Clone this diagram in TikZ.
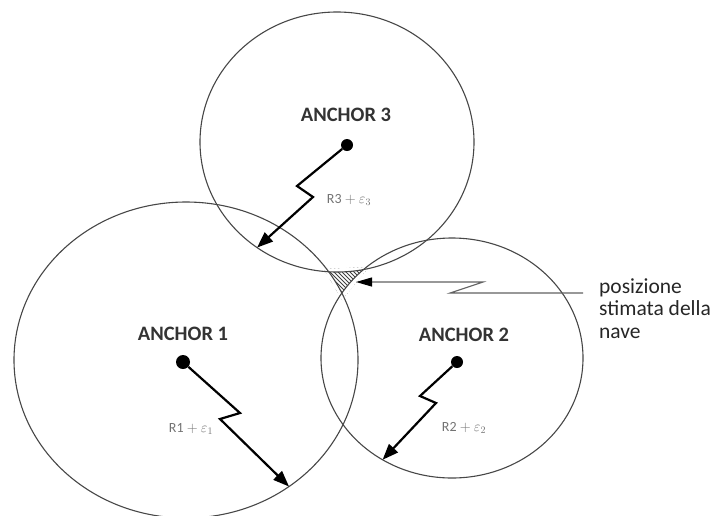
\documentclass[tikz,border=0pt]{standalone}
\usepackage{fontspec}
\setmainfont{Carlito}
\usetikzlibrary{arrows.meta,calc}
\begin{document}
\begin{tikzpicture}[x=1pt,y=-1pt,
  ring/.style={draw=black!72, line width=1.1pt},
  anchordot/.style={circle, fill=black, draw=none, inner sep=0pt, minimum size=#1},
  anchorlabel/.style={font=\bfseries\fontsize{20.5}{24}\selectfont, text=black!80, inner sep=0pt},
  rangelabel/.style={font=\fontsize{14}{16}\selectfont, text=black!55, inner sep=0pt},
  rangearrow/.style={line width=2.2pt, line join=miter, -{Triangle[length=16pt,width=12pt]}},
  pointer/.style={draw=black!62, line width=1.1pt, -{Triangle[length=16pt,width=9pt,color=black]}},
  hatch/.style={draw=black!75, line width=0.8pt},
  infotext/.style={font=\fontsize{21.5}{22.5}\selectfont, text=black!85, inner sep=0pt},
]
\useasboundingbox (0,0) rectangle (714,515);

% centres of the three range circles
\coordinate (c1) at (186,360);
\coordinate (c2) at (452,358);
\coordinate (c3) at (337,142);

% hatched gap left between the three circles
\begin{scope}
  \clip (324,269) -- (369,267) -- (342,300) -- cycle;
  \foreach \k in {0,...,26}
    \draw[hatch] (270+4*\k,260) -- ++(45,45);
  \fill[white] (c1) ellipse [x radius=172, y radius=158];
  \fill[white] (c2) ellipse [x radius=131, y radius=120];
  \fill[white] (c3) ellipse [x radius=137, y radius=130];
\end{scope}

% range circles
\draw[ring] (c1) ellipse [x radius=172, y radius=158];
\draw[ring] (c2) ellipse [x radius=131, y radius=120];
\draw[ring] (c3) ellipse [x radius=137, y radius=130];

% anchors and their names
\node[anchordot=14pt] (a1) at (183,362) {};
\node[anchordot=12pt] (a2) at (457,362) {};
\node[anchordot=12pt] (a3) at (347,145) {};
\node[anchorlabel] (n1) at (183,334) {ANCHOR 1};
\node[anchorlabel] (n2) at (464,335) {ANCHOR 2};
\node[anchorlabel] (n3) at (346,115) {ANCHOR 3};

% ranges with their error terms
\coordinate (z1a) at (240,413);
\coordinate (z1b) at (220,419);
\coordinate (t1) at ($(c1)+(53.2:172 and 158)$);
\draw[rangearrow] (a1) -- (z1a) -- (z1b) -- (t1);

\coordinate (z2a) at (420,396);
\coordinate (z2b) at (436,403);
\coordinate (t2) at ($(c2)+(122:131 and 120)$);
\draw[rangearrow] (a2) -- (z2a) -- (z2b) -- (t2);

\coordinate (z3a) at (297,186);
\coordinate (z3b) at (313,197);
\coordinate (t3) at ($(c3)+(125.7:137 and 130)$);
\draw[rangearrow] (a3) -- (z3a) -- (z3b) -- (t3);

\node[rangelabel] (r1) at (191,429) {$\mathrm{R1}+\varepsilon_1$};
\node[rangelabel] (r2) at (464,428) {$\mathrm{R2}+\varepsilon_2$};
\node[rangelabel] (r3) at (349,200) {$\mathrm{R3}+\varepsilon_3$};

% estimated position note
\node[infotext, anchor=base west] (info) at (599,293)
  {\begin{tabular}[t]{@{}l@{}}posizione\\stimata della\\nave\end{tabular}};
\coordinate (p0) at (583,293);
\coordinate (p1) at (450,293);
\coordinate (p2) at (483,282);
\coordinate (p3) at (356,282);
\draw[pointer] (p0) -- (p1) -- (p2) -- (p3);
\end{tikzpicture}
\end{document}
